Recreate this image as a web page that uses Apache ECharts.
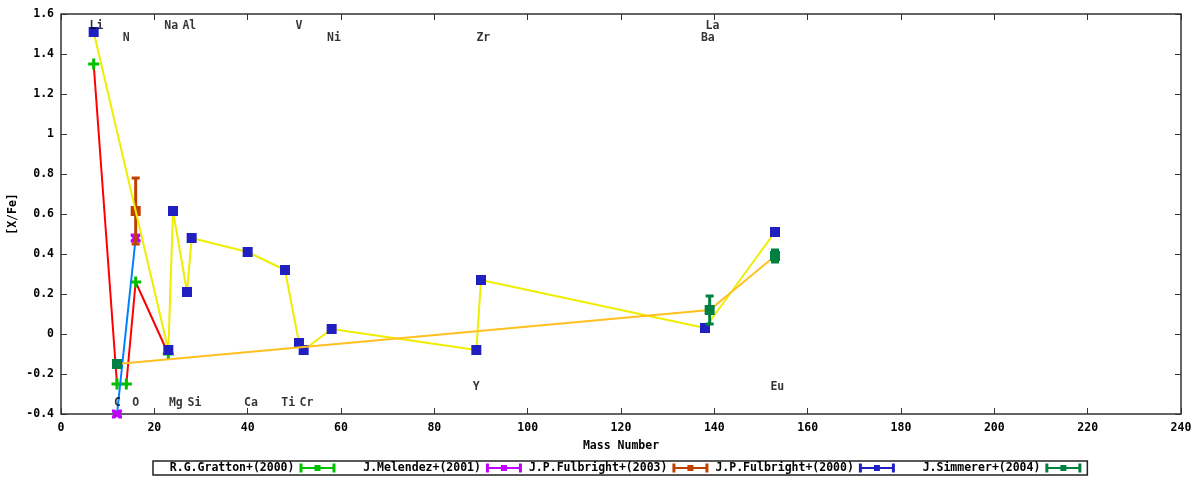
<!DOCTYPE html>
<html>
<head>
<meta charset="utf-8">
<script src="https://cdn.jsdelivr.net/npm/echarts@6/dist/echarts.min.js"></script>
<style>
  html, body { margin: 0; padding: 0; background: #fff; }
  #chart { width: 1200px; height: 480px; }
</style>
</head>
<body>
<div id="chart"></div>
<script>
var font = "'DejaVu Sans Mono', monospace";

// mass number / [X/Fe] per source
var grattonX = [7, 12, 14, 16, 23];
var grattonY = [1.35, -0.25, -0.25, 0.26, -0.1];

var melendezX = [12, 16];
var melendezY = [-0.4, 0.48];

var fulb03X = [16];
var fulb03Y = [0.615];
var fulb03Err = [0.165];

var fulb00X = [7, 23, 24, 27, 28, 40, 48, 51, 52, 58, 89, 90, 138, 153];
var fulb00Y = [1.51, -0.08, 0.615, 0.21, 0.48, 0.41, 0.32, -0.045, -0.08, 0.025, -0.08, 0.27, 0.03, 0.51];

var simmX = [12, 139, 153];
var simmY = [-0.15, 0.12, 0.39];
var simmErr = [0, 0.07, 0.03];

// element labels drawn inside the plot
var elemNames = ['Li', 'Na', 'Al', 'V', 'La', 'N', 'Ni', 'Zr', 'Ba',
                 'C', 'O', 'Mg', 'Si', 'Ca', 'Ti', 'Cr', 'Y', 'Eu'];
var elemX = [7.6, 23.6, 27.5, 51, 139.6, 14, 58.5, 90.5, 138.6,
             12.1, 16, 24.6, 28.6, 40.7, 48.7, 52.6, 89, 153.5];
var elemY = [1.54, 1.54, 1.54, 1.54, 1.54, 1.48, 1.48, 1.48, 1.48,
             -0.345, -0.345, -0.345, -0.345, -0.345, -0.345, -0.345, -0.265, -0.265];

var sourceNames = ['R.G.Gratton+(2000)', 'J.Melendez+(2001)', 'J.P.Fulbright+(2003)',
                   'J.P.Fulbright+(2000)', 'J.Simmerer+(2004)'];
var markColors = ['#00c000', '#c000ff', '#c04000', '#2020c0', '#008040'];

var plusPath = 'path://M4,0h3v4h4v3h-4v4h-3v-4h-4v-3h4z';
var xPath = 'path://M0,0h3l2,2l2,-2h3v3l-2,2l2,2v3h-3l-2,-2l-2,2h-3v-3l2,-2l-2,-2z';
var keyIcon = 'path://M0,0h3v9h-3z M33,0h3v9h-3z M3,3.5h30v2h-30z M15,1.5h6v6h-6z';

function pairs(xs, ys) {
  return xs.map(function (x, i) { return [x, ys[i]]; });
}

// monospace font: left-pad so every key text ends at the same place
function padName(n) {
  var s = n;
  while (s.length < 20) s = '\u00a0' + s;
  return s;
}

function lineSeries(xs, ys, color, z) {
  return {
    type: 'line',
    data: pairs(xs, ys),
    showSymbol: false,
    symbol: 'none',
    lineStyle: { color: color, width: 2 },
    z: z,
    silent: true
  };
}

function markSeries(name, xs, ys, symbol, size, color, z) {
  return {
    name: name,
    type: 'scatter',
    data: pairs(xs, ys),
    symbol: symbol,
    symbolSize: size,
    itemStyle: { color: color, opacity: 1 },
    z: z
  };
}

function errSeries(xs, ys, errs, color, z) {
  var d = [];
  for (var i = 0; i < xs.length; i++) {
    if (errs[i] > 0) d.push([xs[i], ys[i] - errs[i], ys[i] + errs[i]]);
  }
  return {
    type: 'custom',
    data: d,
    z: z,
    silent: true,
    renderItem: function (params, api) {
      var lo = api.coord([api.value(0), api.value(1)]);
      var hi = api.coord([api.value(0), api.value(2)]);
      var w = 4;
      var st = { stroke: color, lineWidth: 3 };
      return {
        type: 'group',
        children: [
          { type: 'line', shape: { x1: lo[0], y1: lo[1], x2: hi[0], y2: hi[1] }, style: st },
          { type: 'line', shape: { x1: lo[0] - w, y1: lo[1], x2: lo[0] + w, y2: lo[1] }, style: st },
          { type: 'line', shape: { x1: hi[0] - w, y1: hi[1], x2: hi[0] + w, y2: hi[1] }, style: st }
        ]
      };
    }
  };
}

var myChart = echarts.init(document.getElementById('chart'));

var labelData = elemNames.map(function (n, i) {
  return { name: n, value: [elemX[i], elemY[i]] };
});

var tickStyle = { show: true, inside: true, length: 6, lineStyle: { color: '#333' } };
var labelFont = { fontFamily: font, fontWeight: 'bold', fontSize: 11.5, color: '#000' };

var option = {
  animation: false,
  backgroundColor: '#fff',
  textStyle: { fontFamily: font },
  grid: {
    left: 61, right: 19, top: 14, bottom: 66,
    outerBoundsMode: 'none',
    containLabel: false,
    show: true, borderColor: '#333', borderWidth: 1.5, backgroundColor: 'transparent'
  },
  legend: {
    left: 153,
    top: 461,
    align: 'right',
    itemWidth: 36,
    itemHeight: 9,
    itemGap: 7,
    padding: [1, 6, 1, 3],
    borderColor: '#222',
    borderWidth: 1.5,
    selectedMode: false,
    formatter: padName,
    textStyle: labelFont,
    data: sourceNames.map(function (n, i) {
      return { name: n, icon: keyIcon, itemStyle: { color: markColors[i] } };
    })
  },
  xAxis: [{
    type: 'value', min: 0, max: 240, interval: 20,
    name: 'Mass Number', nameLocation: 'middle', nameGap: 26,
    nameMoveOverlap: false,
    nameTextStyle: labelFont,
    axisLine: { show: false, onZero: false },
    axisTick: tickStyle,
    axisLabel: Object.assign({ margin: 8 }, labelFont),
    splitLine: { show: false }
  }, {
    type: 'value', position: 'top', min: 0, max: 240, interval: 20,
    axisLine: { show: false, onZero: false },
    axisTick: tickStyle,
    axisLabel: { show: false },
    splitLine: { show: false }
  }],
  yAxis: [{
    type: 'value', min: -0.4, max: 1.6, interval: 0.2,
    name: '[X/Fe]', nameLocation: 'middle', nameGap: 42, nameRotate: 90,
    nameMoveOverlap: false,
    nameTextStyle: labelFont,
    axisLine: { show: false, onZero: false },
    axisTick: tickStyle,
    axisLabel: Object.assign({ margin: 7 }, labelFont),
    splitLine: { show: false }
  }, {
    type: 'value', position: 'right', min: -0.4, max: 1.6, interval: 0.2,
    axisLine: { show: false, onZero: false },
    axisTick: tickStyle,
    axisLabel: { show: false },
    splitLine: { show: false }
  }],
  series: [
    lineSeries(grattonX, grattonY, '#ff0000', 2),
    markSeries(sourceNames[0], grattonX, grattonY, plusPath, 11, markColors[0], 3),
    lineSeries(melendezX, melendezY, '#0080ff', 4),
    markSeries(sourceNames[1], melendezX, melendezY, xPath, [10, 9], markColors[1], 5),
    errSeries(fulb03X, fulb03Y, fulb03Err, markColors[2], 6),
    markSeries(sourceNames[2], fulb03X, fulb03Y, 'rect', 10, markColors[2], 6),
    lineSeries(fulb00X, fulb00Y, '#eeee00', 7),
    markSeries(sourceNames[3], fulb00X, fulb00Y, 'rect', 10, markColors[3], 8),
    lineSeries(simmX, simmY, '#ffc020', 9),
    errSeries(simmX, simmY, simmErr, markColors[4], 10),
    markSeries(sourceNames[4], simmX, simmY, 'rect', 10, markColors[4], 10),
    {
      type: 'scatter',
      data: labelData,
      symbolSize: 0,
      silent: true,
      z: 12,
      label: Object.assign({ show: true, position: 'inside', formatter: '{b}' }, labelFont)
    }
  ]
};

option && myChart.setOption(option);
</script>
</body>
</html>
